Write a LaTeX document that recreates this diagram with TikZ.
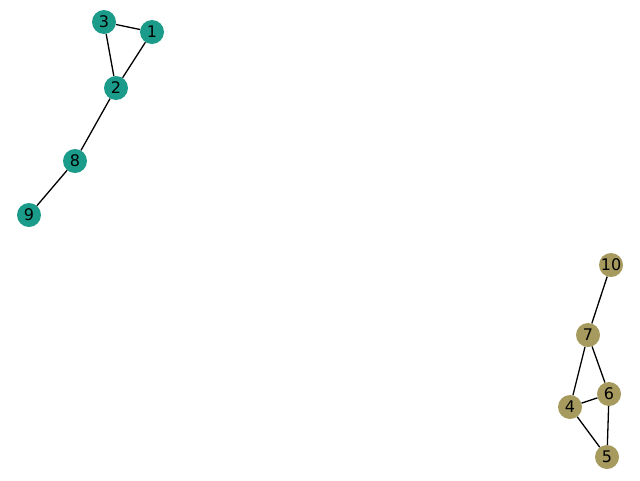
\documentclass[tikz,border=0pt]{standalone}
\usepackage{fontspec}
\setmainfont{DejaVu Sans}
\definecolor{tealc}{RGB}{27,156,138}
\definecolor{olivec}{RGB}{166,154,94}
\begin{document}
\begin{tikzpicture}[x=1pt,y=-1pt,
  vert/.style={circle,minimum size=24pt,inner sep=0pt,font=\fontsize{16}{17}\selectfont},
  vt/.style={vert,fill=tealc},
  vo/.style={vert,fill=olivec},
  edge/.style={line width=1.3pt,black}]
\useasboundingbox (0,0) rectangle (640,480);
\node[vt] (n1) at (152,32) {1};
\node[vt] (n2) at (116,88) {2};
\node[vt] (n3) at (104,22) {3};
\node[vt] (n8) at (75,161) {8};
\node[vt] (n9) at (29,215) {9};
\node[vo] (n10) at (611,265) {10};
\node[vo] (n7) at (588,335) {7};
\node[vo] (n6) at (609,394) {6};
\node[vo] (n4) at (570,407) {4};
\node[vo] (n5) at (607,457) {5};
\draw[edge] (n3) -- (n1);
\draw[edge] (n3) -- (n2);
\draw[edge] (n1) -- (n2);
\draw[edge] (n2) -- (n8);
\draw[edge] (n8) -- (n9);
\draw[edge] (n10) -- (n7);
\draw[edge] (n7) -- (n4);
\draw[edge] (n7) -- (n6);
\draw[edge] (n4) -- (n6);
\draw[edge] (n4) -- (n5);
\draw[edge] (n6) -- (n5);
\end{tikzpicture}
\end{document}
